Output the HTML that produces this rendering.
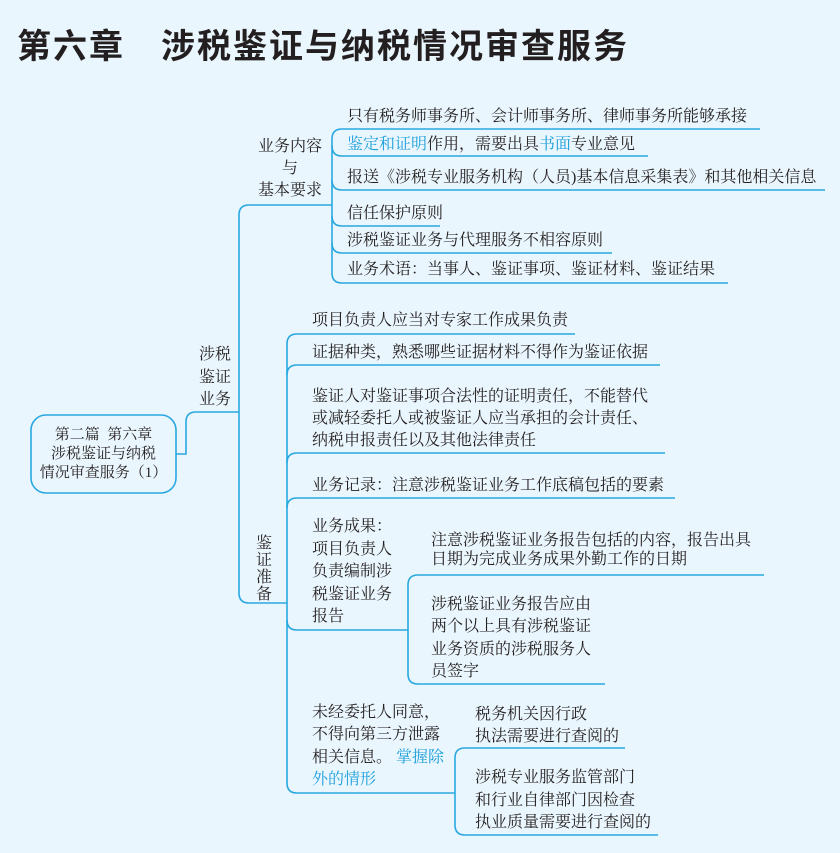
<!DOCTYPE html>
<html><head><meta charset="utf-8"><style>
body{margin:0;width:840px;height:853px;background:#eaf6fd;position:relative;overflow:hidden;font-family:"Liberation Serif","Noto Serif CJK SC",serif;color:#231f20}
.t{position:absolute;font-size:16px;line-height:22px;white-space:nowrap}
.b{color:#1d9fdc}
.title{position:absolute;left:17px;top:19px;font-family:"Liberation Sans","Noto Sans CJK SC",sans-serif;font-size:34px;font-weight:bold;letter-spacing:2px;white-space:pre}
svg{position:absolute;left:0;top:0}
</style></head><body>
<svg width="840" height="853" fill="none" stroke="#29a8e0" stroke-width="1.6">
<rect x="31" y="415" width="145" height="78" rx="15"/>
<path d="M176 454 H186 V422 Q186 412 196 412 H239"/>
<path d="M332 205 H249 Q239 205 239 215 V593 Q239 603 249 603 H287"/>
<path d="M760 129 H342 Q332 129 332 139 V273 Q332 283 342 283 H728"/>
<path d="M332 146 Q332 156 342 156 H648"/>
<path d="M332 180 Q332 190 342 190 H825"/>
<path d="M332 216 Q332 226 342 226 H440"/>
<path d="M332 243 Q332 253 342 253 H612"/>
<path d="M575 334 H297 Q287 334 287 344 V783 Q287 793 297 793 H455"/>
<path d="M287 375 Q287 365 297 365 H660"/>
<path d="M287 463 Q287 453 297 453 H665"/>
<path d="M287 508 Q287 498 297 498 H675"/>
<path d="M287 620 Q287 630 297 630 H408"/>
<path d="M764 575 H418 Q408 575 408 585 V674 Q408 684 418 684 H605"/>
<path d="M625 748 H465 Q455 748 455 758 V825 Q455 835 465 835 H658"/>
</svg>
<div class="title">第六章　涉税鉴证与纳税情况审查服务</div>
<div class="t" style="left:31px;width:145px;top:426px;text-align:center;line-height:19px;font-size:15px">第二篇&nbsp;&nbsp;第六章<br>涉税鉴证与纳税<br>情况审查服务（1）</div>
<div class="t" style="left:199px;top:344px;font-size:16px;line-height:22.5px">涉税<br>鉴证<br>业务</div>
<div class="t" style="left:250px;top:136px;width:80px;text-align:center;line-height:22px">业务内容<br>与<br>基本要求</div>
<div class="t" style="left:347px;top:106px">只有税务师事务所、会计师事务所、律师事务所能够承接</div>
<div class="t" style="left:347px;top:134px"><span class="b">鉴定和证明</span>作用，需要出具<span class="b">书面</span>专业意见</div>
<div class="t" style="left:347px;top:167px">报送《涉税专业服务机构（人员)基本信息采集表》和其他相关信息</div>
<div class="t" style="left:347px;top:203px">信任保护原则</div>
<div class="t" style="left:347px;top:230px">涉税鉴证业务与代理服务不相容原则</div>
<div class="t" style="left:347px;top:259px">业务术语：当事人、鉴证事项、鉴证材料、鉴证结果</div>
<div class="t" style="left:256px;top:535px;width:16px;line-height:17px;white-space:normal">鉴证准备</div>
<div class="t" style="left:312px;top:310px">项目负责人应当对专家工作成果负责</div>
<div class="t" style="left:312px;top:342px">证据种类，熟悉哪些证据材料不得作为鉴证依据</div>
<div class="t" style="left:312px;top:386px">鉴证人对鉴证事项合法性的证明责任，不能替代<br>或减轻委托人或被鉴证人应当承担的会计责任、<br>纳税申报责任以及其他法律责任</div>
<div class="t" style="left:312px;top:475px">业务记录：注意涉税鉴证业务工作底稿包括的要素</div>
<div class="t" style="left:312px;top:516px;line-height:22.5px">业务成果：<br>项目负责人<br>负责编制涉<br>税鉴证业务<br>报告</div>
<div class="t" style="left:431px;top:531px;line-height:19px">注意涉税鉴证业务报告包括的内容，报告出具<br>日期为完成业务成果外勤工作的日期</div>
<div class="t" style="left:431px;top:594px;line-height:22.3px">涉税鉴证业务报告应由<br>两个以上具有涉税鉴证<br>业务资质的涉税服务人<br>员签字</div>
<div class="t" style="left:312px;top:702px;line-height:22.3px">未经委托人同意，<br>不得向第三方泄露<br>相关信息。 <span class="b">掌握除<br>外的情形</span></div>
<div class="t" style="left:475px;top:704px">税务机关因行政<br>执法需要进行查阅的</div>
<div class="t" style="left:475px;top:767px;line-height:22.5px">涉税专业服务监管部门<br>和行业自律部门因检查<br>执业质量需要进行查阅的</div>
</body></html>
